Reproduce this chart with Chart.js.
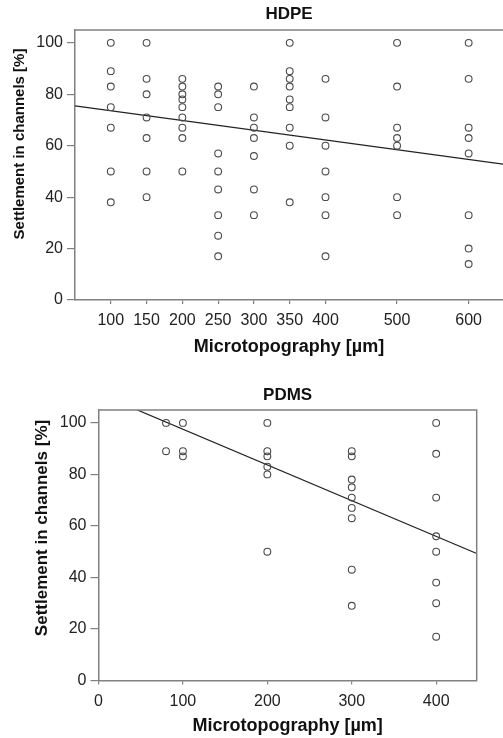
<!DOCTYPE html>
<html>
<head>
<meta charset="utf-8">
<script src="https://cdn.jsdelivr.net/npm/chart.js@4"></script>
<style>
  html, body { margin: 0; padding: 0; background: #fff; overflow: hidden; }
  .panel { position: absolute; left: 0; width: 503px; }
  #hdpeBox { top: 0; height: 362px; }
  #pdmsBox { top: 370px; height: 368px; }
</style>
</head>
<body>
<div class="panel" id="hdpeBox"><canvas id="hdpeChart"></canvas></div>
<div class="panel" id="pdmsBox"><canvas id="pdmsChart"></canvas></div>
<script>
// HDPE: settlement (%) per microtopography size (µm)
const hdpeSizes = [100, 150, 200, 250, 300, 350, 400, 500, 600];
const hdpe100 = [100, 89, 83, 75, 67, 50, 38];
const hdpe150 = [100, 86, 80, 71, 63, 50, 40];
const hdpe200 = [86, 83, 80, 78, 75, 71, 67, 63, 50];
const hdpe250 = [83, 80, 75, 57, 50, 43, 33, 25, 17];
const hdpe300 = [83, 71, 67, 63, 56, 43, 33];
const hdpe350 = [100, 89, 86, 83, 78, 75, 67, 60, 38];
const hdpe400 = [86, 71, 60, 50, 40, 33, 17];
const hdpe500 = [100, 83, 67, 63, 60, 40, 33];
const hdpe600 = [100, 86, 67, 63, 57, 33, 20, 14];
const hdpeTrendX = [50, 648];
const hdpeTrendY = [75.5, 52.8];
const hdpeXTicks = [100, 150, 200, 250, 300, 350, 400, 500, 600];

// PDMS
const pdmsSizes = [80, 100, 200, 300, 400];
const pdms80 = [100, 89];
const pdms100 = [100, 89, 87];
const pdms200 = [100, 89, 87, 83, 80, 50];
const pdms300 = [89, 87, 78, 75, 71, 67, 63, 43, 29];
const pdms400 = [100, 88, 71, 56, 50, 38, 30, 17];
const pdmsTrendX = [46, 448];
const pdmsTrendY = [105, 49.3];
const pdmsXTicks = [0, 100, 200, 300, 400];

const yTicks = [0, 20, 40, 60, 80, 100];

const FONT = '"Liberation Sans", Arial, sans-serif';
Chart.defaults.font.family = FONT;
Chart.defaults.color = "#222";

const framePlugin = {
  id: "frame",
  afterDraw(chart, args, opts) {
    const { ctx, chartArea: a } = chart;
    ctx.save();
    ctx.strokeStyle = "#808080";
    ctx.lineWidth = 1.5;
    ctx.beginPath();
    ctx.moveTo(a.left, a.top);
    ctx.lineTo(a.right, a.top);
    if (opts.right) ctx.lineTo(a.right, a.bottom);
    ctx.stroke();
    // y axis title, placed by hand like the original figure
    ctx.translate(opts.titleX, opts.titleY);
    ctx.rotate(-Math.PI / 2);
    ctx.font = `bold ${opts.titleSize}px ${FONT}`;
    ctx.fillStyle = "#111";
    ctx.textAlign = "center";
    ctx.textBaseline = "middle";
    ctx.fillText(opts.text, 0, 0);
    ctx.restore();
  },
};

function toPoints(sizes, groups) {
  const pts = [];
  sizes.forEach((s, i) => groups[i].forEach((v) => pts.push({ x: s, y: v })));
  return pts;
}

function buildChart(id, o) {
  const ctx = document.getElementById(id).getContext("2d");
  return new Chart(ctx, {
    type: "scatter",
    data: {
      datasets: [
        {
          data: toPoints(o.sizes, o.groups),
          pointStyle: "circle",
          pointRadius: 3.4,
          pointBorderWidth: 1.1,
          pointBorderColor: "#4a4a4a",
          pointBackgroundColor: "rgba(255,255,255,0)",
        },
        {
          type: "line",
          data: o.trendX.map((x, i) => ({ x: x, y: o.trendY[i] })),
          borderColor: "#222",
          borderWidth: 1.3,
          pointRadius: 0,
          fill: false,
        },
      ],
    },
    options: {
      responsive: true,
      maintainAspectRatio: false,
      animation: false,
      layout: { autoPadding: false, padding: { left: 0, right: o.padRight, top: 0, bottom: 0 } },
      plugins: {
        legend: { display: false },
        tooltip: { enabled: false },
        title: {
          display: true,
          fullSize: false,
          text: o.title,
          color: "#111",
          font: { size: 17, weight: "bold" },
          padding: o.titlePad,
        },
        frame: o.frame,
      },
      scales: {
        x: {
          type: "linear",
          min: o.xMin,
          max: o.xMax,
          afterBuildTicks: (s) => { s.ticks = o.xTicks.map((v) => ({ value: v })); },
          afterFit: (s) => {
            s.height = o.xHeight;
            s.paddingLeft = 0;
            s.paddingRight = 0;
          },
          border: { display: true, color: "#808080", width: 1.5 },
          grid: { drawOnChartArea: false, drawTicks: true, tickLength: 4, color: "#808080", lineWidth: 1.2 },
          ticks: { font: { size: 16 }, color: "#222", padding: 7, maxRotation: 0, autoSkip: false },
          title: {
            display: true,
            text: "Microtopography [µm]",
            color: "#111",
            font: { size: 18, weight: "bold" },
            padding: { top: 0, bottom: o.xTitlePad },
          },
        },
        y: {
          type: "linear",
          min: 0,
          max: 105,
          afterBuildTicks: (s) => { s.ticks = yTicks.map((v) => ({ value: v })); },
          afterFit: (s) => { s.width = o.yWidth; },
          border: { display: true, color: "#808080", width: 1.5 },
          grid: { drawOnChartArea: false, drawTicks: true, tickLength: 8, color: "#808080", lineWidth: 1.2 },
          ticks: { font: { size: 16 }, color: "#222", padding: 4 },
        },
      },
    },
    plugins: [framePlugin],
  });
}

buildChart("hdpeChart", {
  title: "HDPE",
  sizes: hdpeSizes,
  groups: [hdpe100, hdpe150, hdpe200, hdpe250, hdpe300, hdpe350, hdpe400, hdpe500, hdpe600],
  trendX: hdpeTrendX,
  trendY: hdpeTrendY,
  xTicks: hdpeXTicks,
  xMin: 50,
  xMax: 648,
  yWidth: 75,
  xHeight: 62,
  padRight: 0,
  titlePad: { top: 4, bottom: 5.6 },
  xTitlePad: 4,
  frame: { right: false, text: "Settlement in channels [%]", titleX: 20, titleY: 144, titleSize: 15 },
});

buildChart("pdmsChart", {
  title: "PDMS",
  sizes: pdmsSizes,
  groups: [pdms80, pdms100, pdms200, pdms300, pdms400],
  trendX: pdmsTrendX,
  trendY: pdmsTrendY,
  xTicks: pdmsXTicks,
  xMin: 0,
  xMax: 448,
  yWidth: 98.5,
  xHeight: 57.5,
  padRight: 26.3,
  titlePad: { top: 14.8, bottom: 4.8 },
  xTitlePad: 1.2,
  frame: { right: true, text: "Settlement in channels [%]", titleX: 42, titleY: 158, titleSize: 17 },
});
</script>
</body>
</html>
